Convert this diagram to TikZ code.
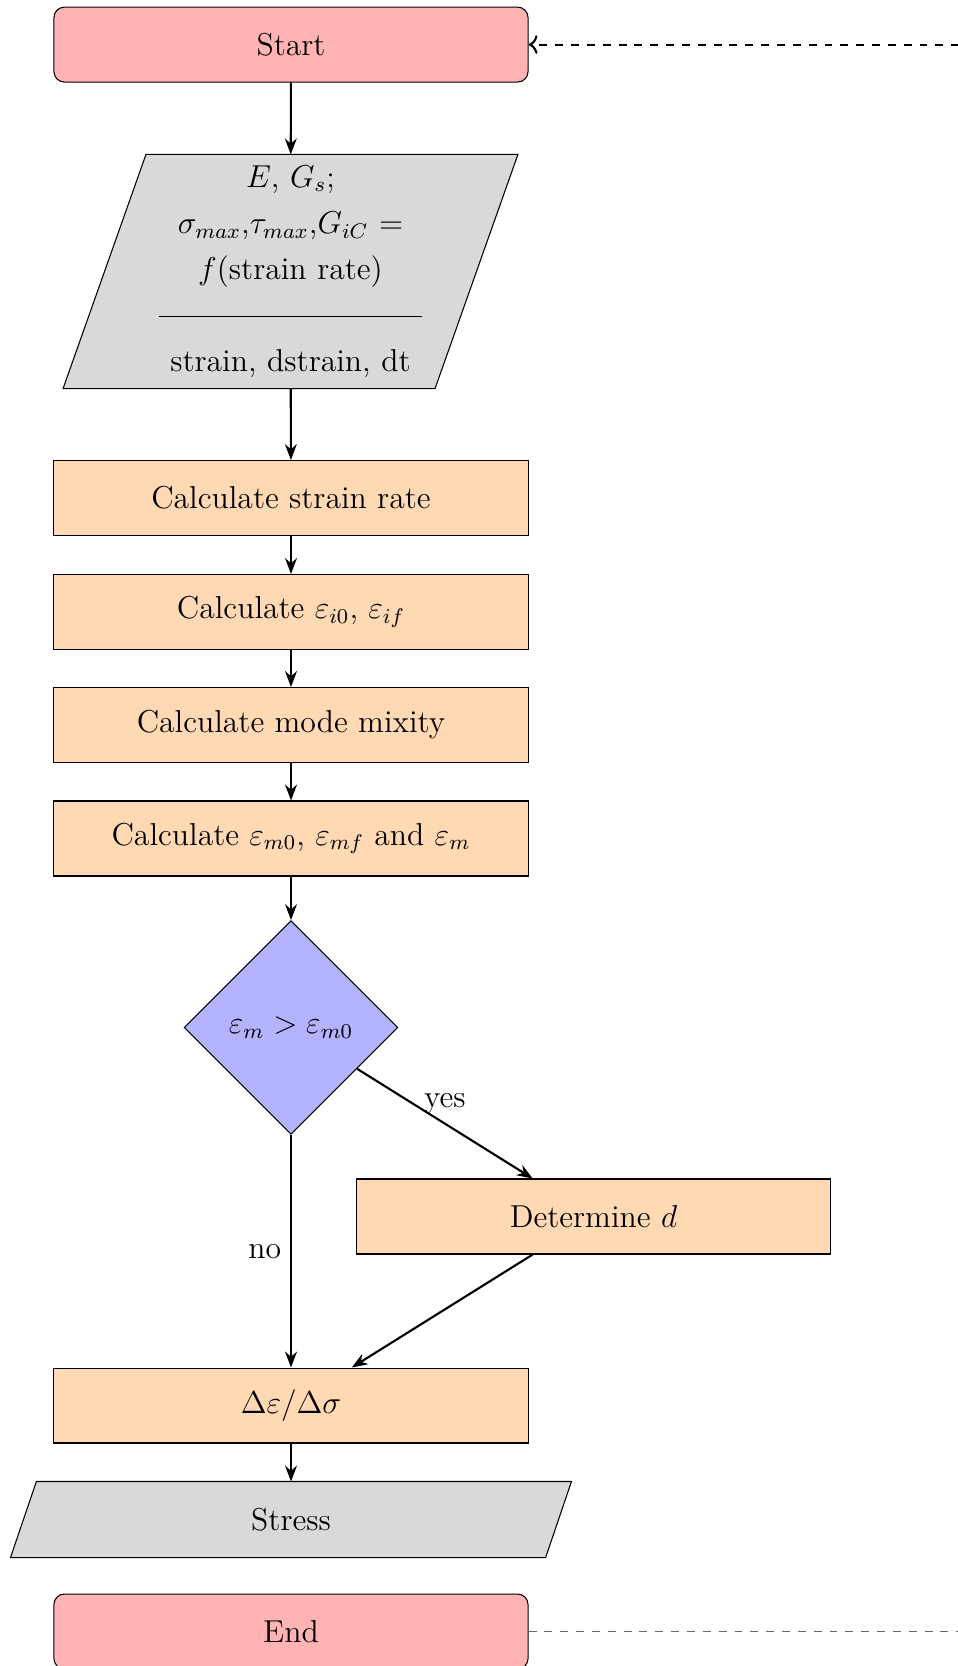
\documentclass[tikz,border=0pt]{standalone}
\usetikzlibrary{shapes.geometric,arrows.meta,backgrounds}
\definecolor{startred}{RGB}{255,179,179}
\definecolor{procorange}{RGB}{255,217,179}
\definecolor{decblue}{RGB}{179,179,255}
\definecolor{iogray}{RGB}{217,217,217}
\tikzset{
  base/.style={font=\large, inner sep=2pt},
  startstop/.style={base, rectangle, rounded corners=4pt, draw, fill=startred, minimum width=179.6pt, minimum height=28.4pt},
  process/.style={base, rectangle, draw, fill=procorange, minimum width=179.6pt, minimum height=28.4pt},
  decision/.style={base, diamond, draw, fill=decblue, minimum width=81pt, minimum height=81pt, aspect=1, inner sep=0pt},
  iobox/.style={base, rectangle, draw=none},
  conn/.style={thick, -{Stealth[length=6pt,width=4.5pt]}},
  lbl/.style={font=\large}
}
\begin{document}
\begin{tikzpicture}[x=0.3788pt,y=-0.3788pt]
\useasboundingbox (0,0) rectangle (958,1666);
\clip (0,0) rectangle (958,1666);
\node[startstop] (start) at (291,44.6) {Start};
\node[iobox, minimum width=140.5pt, minimum height=88.3pt, text width=100pt, align=center, inner sep=0pt] (in) at (290.5,271.5)
  {$E$, $G_s$;\\[3.6pt] $\sigma_{max}$,$\tau_{max}$,$G_{iC}$ =\\[3.4pt] $f$(strain rate)\\[3.4pt] \rule[0.6ex]{\linewidth}{0.5pt}\\[3.4pt] strain, dstrain, dt};
\node[process] (csr) at (291,498) {Calculate strain rate};
\node[process] (ce) at (291,612) {Calculate $\varepsilon_{i0}$, $\varepsilon_{if}$};
\node[process] (cmm) at (291,725) {Calculate mode mixity};
\node[process] (cem) at (291,838.5) {Calculate $\varepsilon_{m0}$, $\varepsilon_{mf}$ and $\varepsilon_m$};
\node[decision] (dia) at (291,1027.5) {$\varepsilon_m > \varepsilon_{m0}$};
\node[process] (det) at (593.5,1216.5) {Determine $d$};
\node[process] (delta) at (291,1405.5) {$\Delta\varepsilon/\Delta\sigma$};
\node[iobox, minimum width=202.3pt, minimum height=28.4pt] (stress) at (291,1519.5) {Stress};
\node[startstop] (end) at (291,1631.5) {End};
\begin{scope}[on background layer]
  \filldraw[fill=iogray] ([xshift=15.7pt]in.north west) -- ([xshift=15.7pt]in.north east) -- ([xshift=-15.7pt]in.south east) -- ([xshift=-15.7pt]in.south west) -- cycle;
  \filldraw[fill=iogray] ([xshift=4.9pt]stress.north west) -- ([xshift=4.9pt]stress.north east) -- ([xshift=-4.9pt]stress.south east) -- ([xshift=-4.9pt]stress.south west) -- cycle;
\end{scope}
\coordinate (loopin) at (975,44.6);
\coordinate (loopout) at (975,1631.5);
\draw[conn] (start) -- (in);
\draw[conn] (in) -- (csr);
\draw[conn] (csr) -- (ce);
\draw[conn] (ce) -- (cmm);
\draw[conn] (cmm) -- (cem);
\draw[conn] (cem) -- (dia);
\draw[conn] (dia) -- node[lbl, midway, above] {yes} (det);
\draw[conn] (dia.south) -- node[lbl, midway, left] {no} (delta.north);
\draw[conn] (det) -- (delta);
\draw[conn] (delta) -- (stress);
\draw[thick, dashed, ->] (loopin) -- (start.east);
\draw[black!60, semithick, dashed] (end.east) -- (loopout);
\end{tikzpicture}
\end{document}
